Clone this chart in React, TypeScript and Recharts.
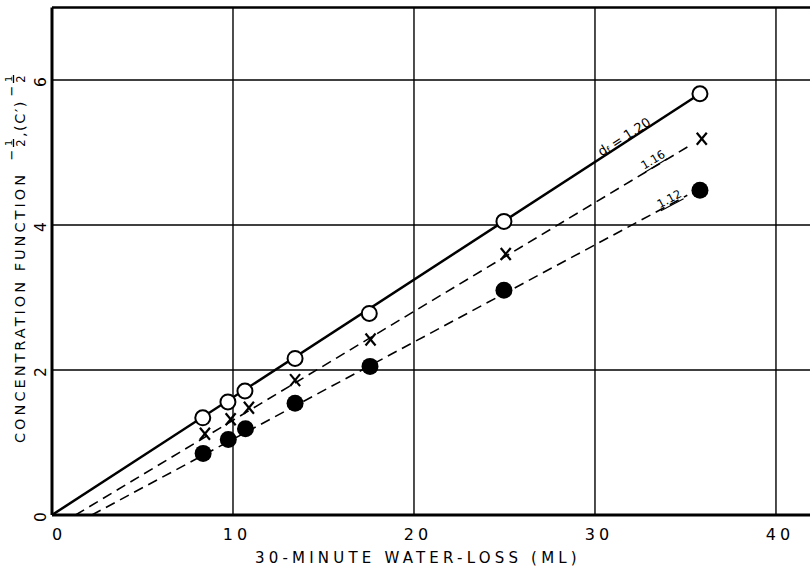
import { ComposedChart, XAxis, YAxis, Scatter, ReferenceLine } from "recharts";

// d_f = 1.20 (open circles)
const openX = [8.33, 9.72, 10.66, 13.43, 17.53, 24.97, 35.8];
const openY = [1.34, 1.56, 1.71, 2.16, 2.78, 4.05, 5.81];
// d_f = 1.16 (crosses)
const crossX = [8.45, 9.87, 10.88, 13.43, 17.6, 25.07, 35.9];
const crossY = [1.12, 1.32, 1.48, 1.86, 2.42, 3.6, 5.19];
// d_f = 1.12 (filled circles)
const filledX = [8.35, 9.74, 10.69, 13.43, 17.57, 24.97, 35.8];
const filledY = [0.85, 1.04, 1.19, 1.54, 2.05, 3.1, 4.48];

// fitted lines, end points
const fit120 = [{ x: 0, y: 0 }, { x: 35.8, y: 5.81 }];
const fit116 = [{ x: 1.3, y: 0 }, { x: 35.2, y: 5.09 }];
const fit112 = [{ x: 2.2, y: 0 }, { x: 35.1, y: 4.41 }];

// labels along the lines
const lineLabels = [
  { x: 31.6, y: 5.22, text: "1.20", angle: -33, sub: true },
  { x: 33.2, y: 4.9, text: "1.16", angle: -31, sub: false },
  { x: 34.1, y: 4.36, text: "1.12", angle: -28, sub: false },
];

const xTicks = [0, 10, 20, 30, 40];
const yTicks = [0, 2, 4, 6];
const yTop = 7;
const xMax = 41.88;

const font = "'DejaVu Sans', sans-serif";

const pts = (xs: number[], ys: number[]) => xs.map((x, i) => ({ x, y: ys[i] }));

function OpenDot({ cx, cy }: any) {
  return <circle cx={cx} cy={cy} r={7.5} fill="#fff" stroke="#000" strokeWidth={2} />;
}

function FilledDot({ cx, cy }: any) {
  return <circle cx={cx} cy={cy} r={8.5} fill="#000" />;
}

function Cross({ cx, cy }: any) {
  return (
    <g stroke="#000" strokeWidth={2.2}>
      <line x1={cx - 5} y1={cy - 6} x2={cx + 5} y2={cy + 6} />
      <line x1={cx + 5} y1={cy - 6} x2={cx - 5} y2={cy + 6} />
    </g>
  );
}

function NoDot() {
  return <g />;
}

function LineLabel({ cx, cy, payload }: any) {
  return (
    <g transform={`translate(${cx},${cy}) rotate(${payload.angle})`}>
      {payload.sub ? (
        <text textAnchor="middle" dominantBaseline="central" fontFamily={font} fontSize={13} fill="#000">
          d<tspan fontSize={9} dy={3}>f</tspan>
          <tspan dy={-3}> = {payload.text}</tspan>
        </text>
      ) : (
        <text textAnchor="middle" dominantBaseline="central" fontFamily={font} fontSize={11.5} fill="#000" textDecoration="underline">
          {payload.text}
        </text>
      )}
    </g>
  );
}

function XTick({ x, y, payload }: any) {
  return (
    <text x={x + (payload.value === 0 ? 7 : 4)} y={y + 17} textAnchor="middle" fontFamily={font} fontSize={16} letterSpacing={4} fill="#000">
      {payload.value}
    </text>
  );
}

function YTick({ y, payload }: any) {
  return (
    <text transform={`translate(46,${y + 2}) rotate(-90)`} textAnchor="middle" fontFamily={font} fontSize={15.5} fill="#000">
      {payload.value}
    </text>
  );
}

function Frac({ u }: { u: number }) {
  return (
    <g>
      <text x={u - 12} y={-9} textAnchor="middle" fontSize={13}>−</text>
      <text x={u} y={-13} textAnchor="middle" fontSize={9.5}>1</text>
      <line x1={u - 4} y1={-11.5} x2={u + 4} y2={-11.5} stroke="#000" strokeWidth={1.3} />
      <text x={u} y={0} textAnchor="middle" fontSize={11.5}>2</text>
    </g>
  );
}

function YLabel() {
  return (
    <g transform="translate(25,443) rotate(-90)" fontFamily={font} fill="#000">
      <text x={0} y={0} fontSize={14.5} letterSpacing={3}>
        CONCENTRATION FUNCTION
      </text>
      <Frac u={300} />
      <text x={306} y={0} fontSize={14.5} letterSpacing={1.5}>
        ,(C′)
      </text>
      <Frac u={364} />
    </g>
  );
}

export default function App() {
  return (
    <div style={{ width: 810, height: 569, background: "#fff" }}>
      <style>{"html,body{margin:0;overflow:hidden}"}</style>
      <ComposedChart width={810} height={569} margin={{ top: 7.5, right: 0, bottom: 0, left: 0 }}>
        <XAxis
          type="number"
          dataKey="x"
          domain={[0, xMax]}
          allowDataOverflow
          ticks={xTicks}
          height={54}
          axisLine={{ stroke: "#000", strokeWidth: 3 }}
          tickLine={false}
          tick={<XTick />}
          label={{
            value: "30-MINUTE  WATER-LOSS  (ML)",
            position: "insideBottomLeft",
            offset: 6,
            dx: 197,
            style: { fontFamily: font, fontSize: 15, letterSpacing: 4.2, fill: "#000", whiteSpace: "pre" },
          }}
        />
        <YAxis
          type="number"
          dataKey="y"
          domain={[0, yTop]}
          ticks={yTicks}
          width={52}
          axisLine={{ stroke: "#000", strokeWidth: 3 }}
          tickLine={false}
          tick={<YTick />}
          label={{ content: () => <YLabel /> }}
        />
        {xTicks.slice(1).map((v) => (
          <ReferenceLine key={`vx${v}`} x={v} stroke="#000" strokeWidth={1.4} />
        ))}
        {yTicks.slice(1).map((v) => (
          <ReferenceLine key={`hy${v}`} y={v} stroke="#000" strokeWidth={1.4} />
        ))}
        <ReferenceLine y={yTop} stroke="#000" strokeWidth={2.5} />
        <Scatter data={fit120} line={{ stroke: "#000", strokeWidth: 2.5 }} shape={<NoDot />} isAnimationActive={false} />
        <Scatter data={fit116} line={{ stroke: "#000", strokeWidth: 1.6, strokeDasharray: "10 6" }} shape={<NoDot />} isAnimationActive={false} />
        <Scatter data={fit112} line={{ stroke: "#000", strokeWidth: 1.6, strokeDasharray: "10 6" }} shape={<NoDot />} isAnimationActive={false} />
        <Scatter data={pts(filledX, filledY)} shape={<FilledDot />} isAnimationActive={false} />
        <Scatter data={pts(crossX, crossY)} shape={<Cross />} isAnimationActive={false} />
        <Scatter data={pts(openX, openY)} shape={<OpenDot />} isAnimationActive={false} />
        <Scatter data={lineLabels} shape={<LineLabel />} isAnimationActive={false} />
      </ComposedChart>
    </div>
  );
}
